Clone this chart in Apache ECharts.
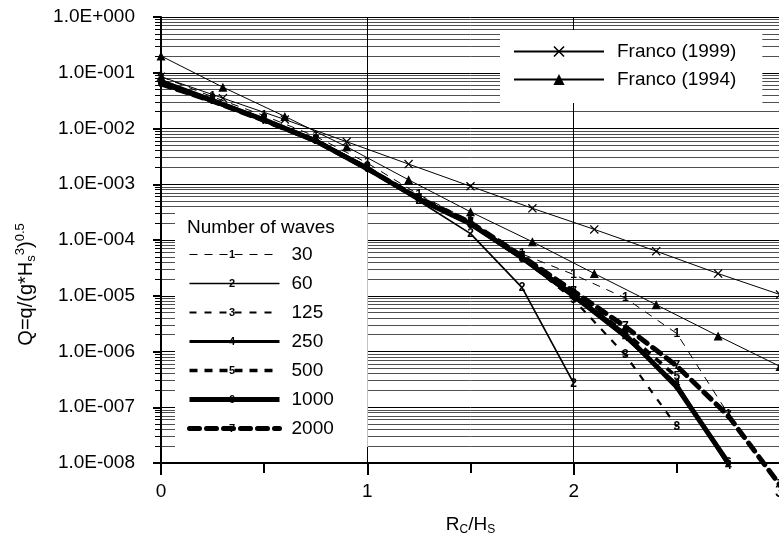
<!DOCTYPE html>
<html lang="en">
<head>
    <meta charset="UTF-8">
    <title>Overtopping discharge</title>
    <style>
        html, body { margin: 0; padding: 0; background: #fff; }
        #main { width: 779px; height: 535px; }
    </style>
    <script src="https://cdn.jsdelivr.net/npm/echarts@6/dist/echarts.min.js"></script>
</head>
<body>
<div id="main"></div>
<script type="text/javascript">
    // x positions of the measured points (Rc/Hs)
    var xWaves = [0, 0.25, 0.5, 0.75, 1, 1.25, 1.5, 1.75, 2, 2.25, 2.5, 2.75, 3];
    var xFranco = [0, 0.3, 0.6, 0.9, 1.2, 1.5, 1.8, 2.1, 2.4, 2.7, 3];

    // Franco formulas
    var franco1999 = [0.085, 0.035, 0.0145, 0.0058, 0.0023, 9.2e-4, 3.7e-4, 1.55e-4, 6.3e-5, 2.5e-5, 1.05e-5];
    var franco1994 = [0.2, 0.055, 0.0165, 4.7e-3, 1.2e-3, 3.2e-4, 9.3e-5, 2.5e-5, 6.9e-6, 1.9e-6, 5.4e-7];

    // number of waves runs
    var waves30   = [0.085, 0.037, 0.017, 0.0072, 0.0024, 6.5e-4, 2.2e-4, 5.6e-5, 2.4e-5, 9.1e-6, 2.1e-6, 7.5e-8];
    var waves60   = [0.075, 0.034, 0.015, 0.0063, 0.0021, 5.0e-4, 1.3e-4, 1.4e-5, 2.7e-7];
    var waves125  = [0.07, 0.033, 0.0148, 0.0062, 0.0020, 5.4e-4, 1.9e-4, 4.7e-5, 8.5e-6, 8.7e-7, 4.5e-8];
    var waves250  = [0.068, 0.032, 0.0145, 0.006, 0.0019, 5.3e-4, 1.9e-4, 4.6e-5, 9.5e-6, 1.8e-6, 2.6e-7, 9e-9];
    var waves500  = [0.065, 0.031, 0.0142, 0.0061, 0.00195, 5.5e-4, 2.0e-4, 4.9e-5, 1.05e-5, 2.2e-6, 3.5e-7];
    var waves1000 = [0.066, 0.0315, 0.0143, 0.006, 0.0019, 5.4e-4, 1.95e-4, 4.8e-5, 1.0e-5, 2.0e-6, 2.3e-7, 1.0e-8];
    var waves2000 = [0.063, 0.031, 0.014, 0.006, 0.0019, 5.6e-4, 2.05e-4, 5.1e-5, 1.2e-5, 2.8e-6, 5.5e-7, 7e-8, 4e-9];

    var waveNames = ['30', '60', '125', '250', '500', '1000', '2000'];

    var FONT = 'Liberation Sans';
    var myChart = echarts.init(document.getElementById('main'));

    function pairs(xs, ys) {
        var out = [];
        for (var i = 0; i < ys.length; i++) out.push([xs[i], ys[i]]);
        return out;
    }

    function expLabel(v) {
        var e = Math.round(Math.log10(v));
        return '1.0E' + (e < 0 ? '-' : '+') + ('000' + Math.abs(e)).slice(-3);
    }

    var crossSymbol = 'path://M1,0L5,4L9,0L10,1L6,5L10,9L9,10L5,6L1,10L0,9L4,5L0,1Z';

    // style of the numbered series: [width, dash]
    var waveStyle = [
        [1, [8, 7]],
        [1.7, 'solid'],
        [2.2, [7, 8]],
        [3, 'solid'],
        [3.6, [8, 7]],
        [5, 'solid'],
        [5, [10, 7]]
    ];
    var waveData = [waves30, waves60, waves125, waves250, waves500, waves1000, waves2000];

    var series = [{
        name: 'Franco (1999)',
        type: 'line',
        data: pairs(xFranco, franco1999),
        symbol: crossSymbol,
        symbolSize: 9,
        clip: false,
        z: 3,
        itemStyle: { color: '#000' },
        lineStyle: { color: '#000', width: 1 }
    }, {
        name: 'Franco (1994)',
        type: 'line',
        data: pairs(xFranco, franco1994),
        symbol: 'triangle',
        symbolSize: 9,
        clip: false,
        z: 3,
        itemStyle: { color: '#000' },
        lineStyle: { color: '#000', width: 1 }
    }];

    var waveLegend = [];
    for (var k = 0; k < waveData.length; k++) {
        (function (k) {
            var ls = {
                color: '#000',
                width: waveStyle[k][0],
                type: waveStyle[k][1],
                cap: k === 6 ? 'round' : 'butt'
            };
            series.push({
                name: waveNames[k],
                type: 'line',
                data: pairs(xWaves, waveData[k]),
                symbol: 'circle',
                symbolSize: 1,
                clip: false,
                z: 4,
                itemStyle: { color: '#000' },
                lineStyle: ls,
                label: {
                    show: true,
                    position: 'inside',
                    formatter: String(k + 1),
                    fontFamily: FONT,
                    fontSize: 12,
                    fontWeight: 'bold',
                    color: '#000'
                }
            });
            waveLegend.push({ name: waveNames[k], lineStyle: ls });
        })(k);
    }

    // digits drawn on the legend lines
    var legendDigits = [];
    for (var j = 0; j < 7; j++) {
        legendDigits.push({
            type: 'text',
            z: 100,
            x: 232,
            y: 255 + j * 29,
            style: {
                text: String(j + 1), fontFamily: FONT, fontSize: 11, fontWeight: 'bold',
                fill: '#000', align: 'center', verticalAlign: 'middle'
            }
        });
    }

    var nbsp = '\u00a0\u00a0\u00a0\u00a0\u00a0\u00a0\u00a0\u00a0\u00a0\u00a0\u00a0\u00a0\u00a0\u00a0\u00a0\u00a0';

    var option = {
        backgroundColor: '#fff',
        animation: false,
        textStyle: { fontFamily: FONT },
        title: {
            text: 'Number of waves',
            left: 187,
            top: 218,
            padding: 0,
            z: 10,
            textStyle: { fontFamily: FONT, fontSize: 19, fontWeight: 'normal', color: '#000' }
        },
        grid: { left: 161, width: 619, top: 17, bottom: 72, outerBoundsMode: 'none' },
        legend: [{
            data: ['Franco (1999)', 'Franco (1994)'],
            orient: 'vertical',
            left: 500,
            top: 30,
            padding: [12, 26, 14, 13],
            itemWidth: 90,
            itemHeight: 14,
            itemGap: 9,
            backgroundColor: '#fff',
            textStyle: { fontFamily: FONT, fontSize: 19, color: '#000', padding: [0, 0, 0, 8] }
        }, {
            data: waveLegend,
            orient: 'vertical',
            left: 175,
            top: 207,
            padding: [38, 34, 9, 12],
            itemWidth: 90,
            itemHeight: 14,
            itemGap: 10,
            backgroundColor: '#fff',
            itemStyle: { opacity: 0 },
            textStyle: { fontFamily: FONT, fontSize: 19, color: '#000', padding: [0, 0, 0, 7] }
        }],
        graphic: legendDigits,
        xAxis: {
            type: 'value',
            min: 0,
            max: 3,
            interval: 1,
            name: 'R{sub|C}/H{sub|S}',
            nameLocation: 'middle',
            nameGap: 51,
            nameTextStyle: {
                fontFamily: FONT, fontSize: 19, color: '#000', lineHeight: 22,
                rich: { sub: { fontFamily: FONT, fontSize: 12, lineHeight: 12, verticalAlign: 'bottom', color: '#000' } }
            },
            axisLine: { lineStyle: { color: '#000', width: 2 } },
            axisTick: { length: 12, lineStyle: { color: '#000', width: 2 } },
            minorTick: { show: true, splitNumber: 2, length: 10, lineStyle: { color: '#000', width: 2 } },
            axisLabel: { margin: 19, fontFamily: FONT, fontSize: 19, color: '#000' },
            splitLine: { show: true, lineStyle: { color: '#000', width: 1 } }
        },
        yAxis: {
            type: 'log',
            logBase: 10,
            min: 1e-8,
            max: 1,
            interval: 1,
            name: 'Q=q/(g*H{sub|s}{sup|3}){sup|0.5}' + nbsp,
            nameLocation: 'middle',
            nameRotate: 90,
            nameGap: 123,
            nameTextStyle: {
                fontFamily: FONT, fontSize: 20, color: '#000', lineHeight: 24,
                rich: {
                    sub: { fontFamily: FONT, fontSize: 13, lineHeight: 13, verticalAlign: 'bottom', color: '#000' },
                    sup: { fontFamily: FONT, fontSize: 13, lineHeight: 13, verticalAlign: 'top', color: '#000' }
                }
            },
            axisLine: { lineStyle: { color: '#000', width: 2 } },
            axisTick: { length: 8, lineStyle: { color: '#000', width: 2 } },
            minorTick: { show: true, splitNumber: 9, length: 6, lineStyle: { color: '#000', width: 1 } },
            minorSplitLine: { show: true, lineStyle: { color: '#222', width: 0.8 } },
            axisLabel: { margin: 26, fontFamily: FONT, fontSize: 19, color: '#000', formatter: expLabel },
            splitLine: { show: true, lineStyle: { color: '#000', width: 1 } }
        },
        series: series
    };

    myChart.setOption(option);
</script>
</body>
</html>
